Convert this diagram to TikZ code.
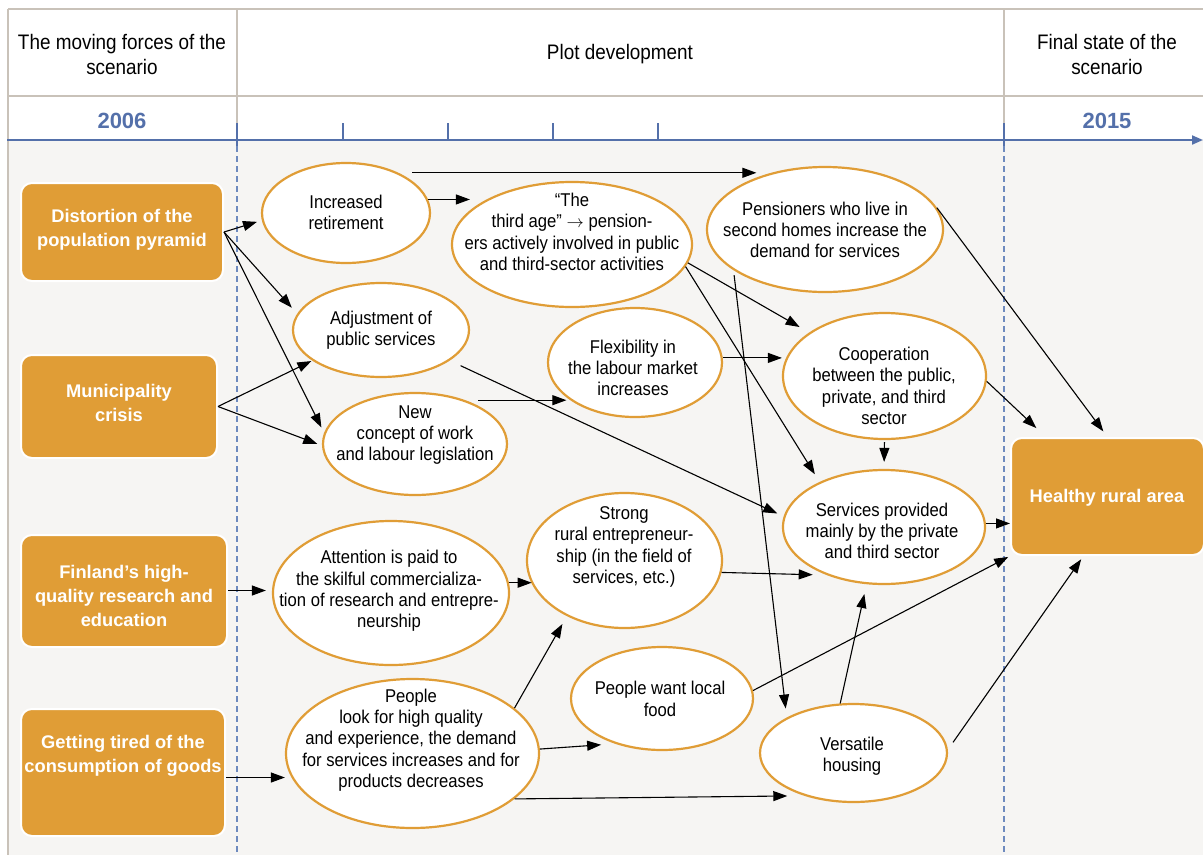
\documentclass[tikz,border=0pt]{standalone}
\usepackage{fontspec}
\setmainfont{Liberation Sans}[FakeStretch=0.9]
\newfontfamily\bfam{Liberation Sans}
\usetikzlibrary{arrows.meta,shapes.geometric}
\definecolor{orng}{RGB}{224,157,54}
\definecolor{bgc}{RGB}{246,245,243}
\definecolor{rulec}{RGB}{201,194,185}
\definecolor{axisc}{RGB}{84,112,170}
\definecolor{dashc}{RGB}{110,138,190}
\begin{document}
\begin{tikzpicture}[x=1pt,y=-1pt,
  ell/.style={ellipse, draw=orng, line width=2.2pt, fill=white, inner sep=0pt},
  etxt/.style={align=center, inner sep=0pt, font=\fontsize{18.5}{21.3}\selectfont},
  fbox/.style={rectangle, rounded corners=11pt, fill=orng, draw=white, line width=2pt, inner sep=0pt},
  btxt/.style={align=center, text=white, inner sep=0pt, font=\bfam\bfseries\fontsize{18.3}{24}\selectfont},
  htxt/.style={align=center, inner sep=0pt, font=\fontsize{21}{25}\selectfont},
  ytxt/.style={inner sep=0pt, text=axisc, font=\bfam\bfseries\fontsize{22}{26}\selectfont},
  arr/.style={-{Triangle[length=14pt,width=10pt]}, line width=1.1pt, black},
  rulel/.style={rulec, line width=1.5pt},
  tick/.style={axisc, line width=1.2pt}]
\useasboundingbox (0,0) rectangle (1203,855);
% background
\fill[white] (0,0) rectangle (1203,855);
\fill[bgc] (8,140) rectangle (1203,855);
% header grid
\draw[rulel] (8,9) -- (1203,9);
\draw[rulel] (8,96) -- (1203,96);
\draw[rulel] (8,9) -- (8,855);
\draw[rulel] (237,9) -- (237,123);
\draw[rulel] (1004,9) -- (1004,123);
% axis
\draw[axisc, line width=2pt, -{Triangle[length=11pt,width=9pt]}] (7,140) -- (1203,140);
\foreach \tx in {343,448,553,658} \draw[tick] (\tx,123) -- (\tx,140);
\foreach \tx in {237,1004} \draw[tick] (\tx,123) -- (\tx,146);
\foreach \tx in {237,1004} \draw[dashc, line width=1.1pt, dash pattern=on 6pt off 4pt] (\tx,146) -- (\tx,855);
% header texts
\node[htxt] (h1) at (122,54) {The moving forces of the\\scenario};
\node[htxt] (h2) at (620,54) {Plot development};
\node[htxt] (h3) at (1107,54) {Final state of the\\scenario};
\node[ytxt] (y1) at (122,121) {2006};
\node[ytxt] (y2) at (1107,121) {2015};
% boxes
\node[fbox, minimum width=202, minimum height=98] (b1) at (122,232) {};
\node[btxt] (b1t) at (122,230) {Distortion of the\\population pyramid};
\node[fbox, minimum width=196, minimum height=103] (b2) at (119,406.5) {};
\node[btxt] (b2t) at (119,403) {Municipality\\crisis};
\node[fbox, minimum width=206, minimum height=112] (b3) at (124,591) {};
\node[btxt] (b3t) at (124,595.5) {Finland’s high-\\quality research and\\education};
\node[fbox, minimum width=204, minimum height=127] (b4) at (123,772.5) {};
\node[btxt] (b4t) at (123,756) {Getting tired of the\\consumption of goods};
\node[fbox, minimum width=193, minimum height=117] (b5) at (1107.5,496.5) {};
\node[btxt] (b5t) at (1107,498) {Healthy rural area};
% ellipses
\node[ell, minimum width=168, minimum height=100] (e1) at (346,213) {};
\node[etxt] (e1t) at (346,212.5) {Increased\\retirement};
\node[ell, minimum width=240, minimum height=125] (e2) at (572,244.5) {};
\node[etxt] (e2t) at (572,232) {“The\\third age” $\rightarrow$ pension-\\ers actively involved in public\\and third-sector activities};
\node[ell, minimum width=236, minimum height=125] (e3) at (825,229.5) {};
\node[etxt] (e3t) at (825,230) {Pensioners who live in\\second homes increase the\\demand for services};
\node[ell, minimum width=203, minimum height=126] (e4) at (884.5,376) {};
\node[etxt] (e4t) at (884,386) {Cooperation\\between the public,\\private, and third\\sector};
\node[ell, minimum width=176, minimum height=94] (e5) at (381,330) {};
\node[etxt] (e5t) at (381,330.5) {Adjustment of\\public services};
\node[ell, minimum width=174, minimum height=109] (e6) at (635,362.5) {};
\node[etxt] (e6t) at (633,368) {Flexibility in\\the labour market\\increases};
\node[ell, minimum width=184, minimum height=102] (e7) at (415,444) {};
\node[etxt] (e7t) at (415,435) {New\\concept of work\\and labour legislation};
\node[ell, minimum width=202, minimum height=114] (e8) at (884,527) {};
\node[etxt] (e8t) at (882,531) {Services provided\\mainly by the private\\and third sector};
\node[ell, minimum width=195, minimum height=135] (e9) at (624.5,560.5) {};
\node[etxt] (e9t) at (624,547) {Strong\\rural entrepreneur-\\ship (in the field of\\services, etc.)};
\node[ell, minimum width=236, minimum height=144] (e10) at (391,593) {};
\node[etxt] (e10t) at (389,591) {Attention is paid to\\the skilful commercializa-\\tion of research and entrepre-\\neurship};
\node[ell, minimum width=253, minimum height=149] (e11) at (412.5,753.5) {};
\node[etxt] (e11t) at (411,740) {People\\look for high quality\\and experience, the demand\\for services increases and for\\products decreases};
\node[ell, minimum width=182, minimum height=103] (e12) at (662,698.5) {};
\node[etxt] (e12t) at (660,699) {People want local\\food};
\node[ell, minimum width=187, minimum height=98] (e13) at (853.5,753) {};
\node[etxt] (e13t) at (852,756) {Versatile\\housing};
% helper coordinates
\coordinate (t1) at ([yshift=8pt]e1.26);
\coordinate (b4o) at ([yshift=-5pt]b4.east);
\coordinate (b3o) at ([yshift=0.5pt]b3.east);
\coordinate (e1o) at ([yshift=0.5pt]e1.9);
% connectors
\draw[arr, shorten >=5pt] (b1.east) -- (e1.185);
\draw[arr, shorten >=8pt] (b1.east) -- (e5.169);
\draw[arr, shorten >=6pt] (b1.east) -- (e7.173);
\draw[arr, shorten >=1pt] (b2.east) -- (e5.204);
\draw[arr, shorten >=5pt] (b2.east) -- (e7.181);
\draw[arr, shorten >=6pt] (b3o) -- (b3o -| e10.west);
\draw[arr] (b4o) -- (b4o -| e11.west);
\draw[arr, shorten >=17pt] (e1o) -- (e1o -| e2.152);
\draw[arr, shorten >=17pt] (t1) -- (t1 -| e3.132);
\draw[arr, shorten >=11pt] (e2.-9) -- (e4.150);
\draw[arr, shorten >=9pt] (e2.-11) -- (e8.145);
\draw[arr, shorten <=5pt, shorten >=9pt] (e3.204) -- (e13.152);
\draw[arr, shorten >=7pt] (e3.11) -- (b5.north);
\draw[arr, shorten >=13pt] (e4.-3) -- (b5.136);
\draw[arr, shorten <=2pt, shorten >=7pt] (e4.south) -- (e8.north);
\draw[arr, shorten <=12pt, shorten >=7pt] (e5.-24) -- (e8.174);
\draw[arr] (e6.3) -- (e6.3 -| e4.west);
\draw[arr, shorten <=13pt, shorten >=6pt] (e7.41) -- (e7.41 -| e6.212);
\draw[arr] (e8.2) -- (e8.2 -| b5.west);
\draw[arr, shorten >=14pt] (e9.-7) -- (e8.220);
\draw[arr] (e10.5) -- (e10.5 -| e9.194);
\draw[arr, shorten >=9pt] (e11.24) -- (e9.224);
\draw[arr, shorten >=14pt] (e11.2) -- (e12.224);
\draw[arr, shorten >=17pt] (e11.-24) -- (e13.221);
\draw[arr, shorten >=2pt] (e12.5) -- (b5.south west);
\draw[arr, shorten >=10pt] (e13.105) -- (e8.253);
\draw[arr, shorten <=9pt, shorten >=4pt] (e13.2) -- (b5.248);
\end{tikzpicture}
\end{document}
